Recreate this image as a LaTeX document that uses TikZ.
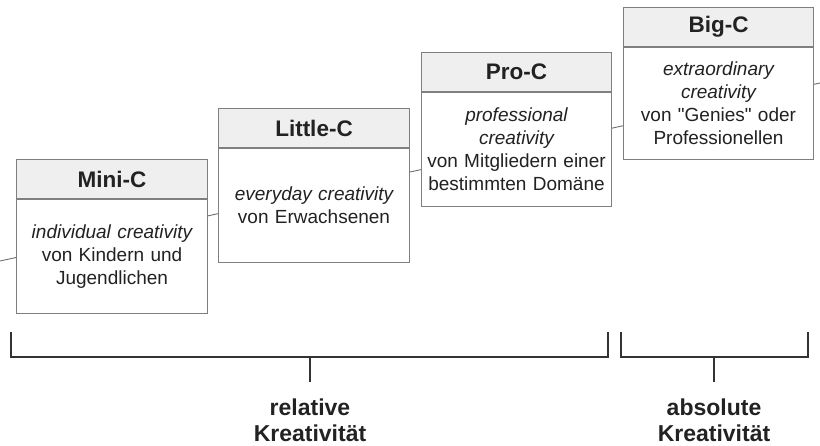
\documentclass[tikz,border=0pt]{standalone}
\usepackage{fontspec}
\setmainfont{Liberation Sans}[Ligatures=TeXOff]
\definecolor{ink}{HTML}{222222}
\definecolor{boxline}{HTML}{7F7F7F}
\definecolor{headfill}{HTML}{EFEFEF}
\definecolor{trend}{HTML}{6E6E6E}
\definecolor{brace}{HTML}{333333}
\begin{document}
\begin{tikzpicture}[x=1pt,y=-1pt,
  head/.style={draw=boxline, line width=1pt, fill=headfill, anchor=north west,
    minimum width=191pt, minimum height=39pt, inner sep=0pt, text=ink,
    font=\bfseries\fontsize{22.5}{26}\selectfont},
  body/.style={draw=boxline, line width=1pt, fill=white, anchor=north west,
    minimum width=191pt, minimum height=114pt, inner sep=0pt, text=ink,
    text width=187pt, align=center, font=\fontsize{19}{23}\selectfont},
  trendline/.style={draw=trend, line width=0.9pt},
  bracket/.style={draw=brace, line width=1.8pt},
  label/.style={align=center, text=ink, font=\bfseries\fontsize{23}{26}\selectfont}]
\useasboundingbox (0,0) rectangle (820,446);

% rising trend line behind the boxes
\coordinate (t0) at (0,261);
\coordinate (t1) at (820,83);
\draw[trendline] (t0) -- (t1);

% Mini-C
\node[head] (minih) at (16,159) {Mini-C};
\node[body] (minib) at (minih.south west) {\itshape individual creativity\\ \upshape von Kindern und\\ Jugendlichen};
% Little-C
\node[head] (littleh) at (218,108) {Little-C};
\node[body] (littleb) at (littleh.south west) {\itshape everyday creativity\\ \upshape von Erwachsenen};
% Pro-C
\node[head, minimum width=190pt] (proh) at (421,52) {Pro-C};
\node[body, minimum width=190pt] (prob) at (proh.south west) {\itshape professional\\ creativity\\ \upshape von Mitgliedern einer\\ bestimmten Domäne};
% Big-C
\node[head, minimum width=190pt] (bigh) at (623,7) {Big-C};
\node[body, minimum width=190pt, minimum height=112pt] (bigb) at (bigh.south west) {\itshape extraordinary\\ creativity\\ \upshape von "Genies" oder\\ Professionellen};

% brackets
\coordinate (r0) at (11,332);
\coordinate (r1) at (608,332);
\coordinate (rm) at (310,357);
\coordinate (a0) at (621,332);
\coordinate (a1) at (808,332);
\coordinate (am) at (714,357);
\draw[bracket] (r0) |- (rm) -| (r1);
\draw[bracket] (rm) -- ++(0,25) coordinate (rt);
\draw[bracket] (a0) |- (am) -| (a1);
\draw[bracket] (am) -- ++(0,25) coordinate (at);

\node[label] (rel) at (310,420) {relative\\ Kreativität};
\node[label] (abs) at (714,420) {absolute\\ Kreativität};
\end{tikzpicture}
\end{document}
